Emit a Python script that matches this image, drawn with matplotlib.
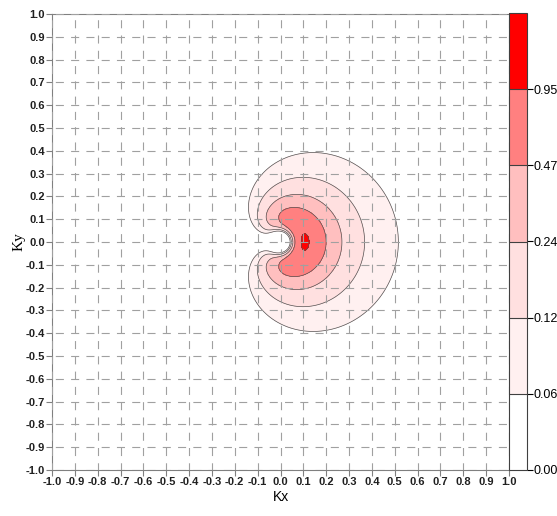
import numpy as np
import matplotlib
matplotlib.use("Agg")
import matplotlib.pyplot as plt

plt.rcParams['lines.scale_dashes'] = False

# contour levels and fill colours
levels = [0.00, 0.06, 0.12, 0.24, 0.47, 0.95, 1.10]
fill_colors = ['#FFFFFF', '#FFF0F0', '#FFE0E0', '#FFBFBF', '#FF8080', '#FF0000']
tick_vals = [-1.0, -0.9, -0.8, -0.7, -0.6, -0.5, -0.4, -0.3, -0.2, -0.1,
             0.0, 0.1, 0.2, 0.3, 0.4, 0.5, 0.6, 0.7, 0.8, 0.9, 1.0]

# shape parameters of the crescent field
amp = 0.975       # ridge height
peak_r = 0.112    # ridge position along Kx
w_out = 0.0718    # outer width
gam = 0.80        # outer decay exponent
w_in = 0.0529     # inner width
m_in = 3.69       # inner steepness
p_ang = 0.12      # angular stretch of the outer lobe
q_ang = 1.9       # angular fall-off of the level

kx = np.linspace(-1, 1, 801)
ky = np.linspace(-1, 1, 801)
X, Y = np.meshgrid(kx, ky)
r = np.hypot(X, Y)
th = np.arctan2(Y, X)
c = np.maximum(np.cos(th / 2), 1e-9)
s = r / c ** p_ang
d_out = np.clip(s - peak_r, 0, None)
d_in = np.clip(peak_r - r, 0, None)
outer = (1 + (d_out / w_out) ** 2) ** (-gam)
inner = np.exp(-(d_in / w_in) ** m_in)
Z = amp * c ** q_ang * outer * inner

fig = plt.figure(figsize=(5.57, 5.16), dpi=100)
ax = fig.add_axes([52 / 557, 46 / 516, 457 / 557, 456 / 516])
cax = fig.add_axes([509 / 557, 46 / 516, 18 / 557, 457 / 516])

cf = ax.contourf(X, Y, Z, levels=levels, colors=fill_colors)
ax.contour(X, Y, Z, levels=levels[1:-1], colors='#505050', linewidths=0.5)

ax.set_xlim(-1, 1)
ax.set_ylim(-1, 1)
ax.set_xticks(tick_vals)
ax.set_yticks(tick_vals)
ax.set_xticklabels(['%.1f' % v for v in tick_vals])
ax.set_yticklabels(['%.1f' % v for v in tick_vals])
ax.xaxis.grid(True, color='#A0A0A0', linewidth=0.8, linestyle=(0.6, (5.8, 5.2)))
ax.yaxis.grid(True, color='#A0A0A0', linewidth=0.8, linestyle=(8.6, (5.8, 5.2)))
ax.set_axisbelow(False)
for side in ['left', 'bottom', 'top']:
    ax.spines[side].set_color('#808080')
ax.spines['right'].set_visible(False)
ax.tick_params(direction='out', length=4, color='#808080', labelsize=8, pad=1)
for lab in ax.get_xticklabels() + ax.get_yticklabels():
    lab.set_family('Liberation Sans')
    lab.set_fontweight('bold')
    lab.set_color('#202020')
ax.set_xlabel('Kx', family='Liberation Sans', fontsize=10, labelpad=2)
ax.set_ylabel('Ky', family='Liberation Serif', fontsize=11, labelpad=0)

cb = fig.colorbar(cf, cax=cax, ticks=levels[:-1])
cb.ax.set_yticklabels(['%.2f' % v for v in levels[:-1]])
cb.outline.set_edgecolor('#404040')
cb.outline.set_linewidth(0.8)
cb.ax.tick_params(direction='out', length=4, labelsize=9, pad=1)
for lab in cb.ax.get_yticklabels():
    lab.set_family('Liberation Sans')
cb.add_lines(levels[1:-1], ['#404040'] * 5, [0.8] * 5)

fig.savefig('out.png', dpi=100)
